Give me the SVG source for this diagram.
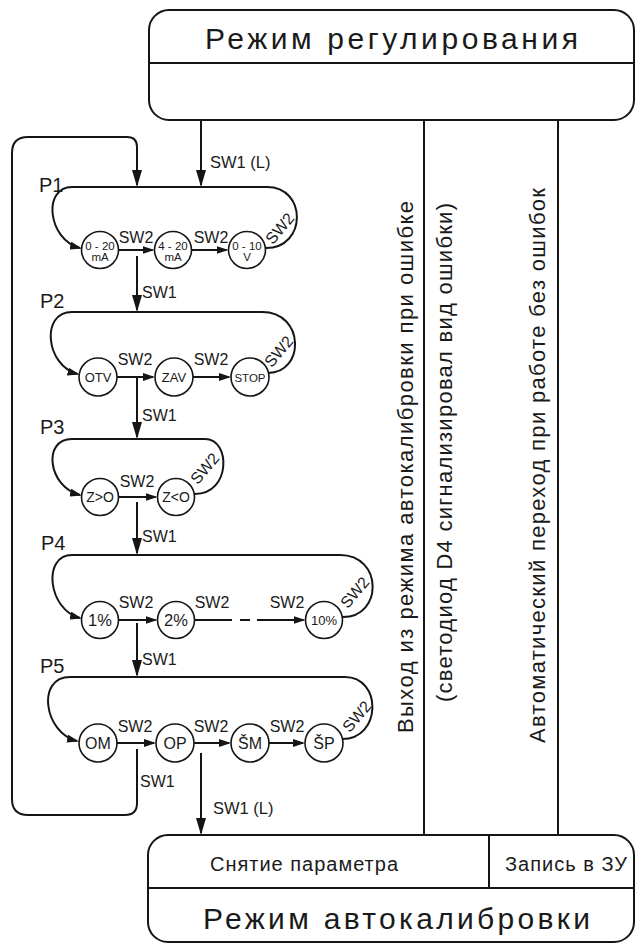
<svg xmlns="http://www.w3.org/2000/svg" width="636" height="945" viewBox="0 0 636 945">
<defs>
<style>
.ln{fill:none;stroke:#151515;stroke-width:2}
.cl{fill:#fff;stroke:#151515;stroke-width:1.6}
.t{font-family:"Liberation Sans",Arial,sans-serif;fill:#1a1a1a}
.s{font-size:16px}
.m{text-anchor:middle}
</style>
<marker id="a" viewBox="0 0 12 8" refX="10" refY="4" markerWidth="12" markerHeight="8" markerUnits="userSpaceOnUse" orient="auto"><path d="M0 0L12 4L0 8z" fill="#151515"/></marker>
<marker id="b" viewBox="0 0 17 10" refX="15" refY="5" markerWidth="17" markerHeight="10" markerUnits="userSpaceOnUse" orient="auto"><path d="M0 0L17 5L0 10z" fill="#151515"/></marker>
</defs>
<rect width="636" height="945" fill="#fff"/>

<g id="mode-regulation">
<rect class="ln" x="149" y="10" width="485" height="110" rx="20"/>
<line class="ln" x1="149" y1="63" x2="634" y2="63"/>
<text class="t" x="205" y="49" font-size="30" textLength="373" lengthAdjust="spacing">Режим регулирования</text>
</g>

<g id="mode-autocal">
<rect class="ln" x="148" y="835" width="486" height="107" rx="20"/>
<line class="ln" x1="148" y1="888" x2="634" y2="888"/>
<line class="ln" x1="489" y1="835" x2="489" y2="888"/>
<text class="t" x="210" y="871" font-size="20" textLength="188" lengthAdjust="spacing">Снятие параметра</text>
<text class="t" x="505" y="871" font-size="20" textLength="122" lengthAdjust="spacing">Запись в ЗУ</text>
<text class="t" x="203" y="929" font-size="30" textLength="387" lengthAdjust="spacing">Режим автокалибровки</text>
</g>

<g id="connectors">
<line class="ln" x1="424" y1="120" x2="424" y2="835"/>
<line class="ln" x1="558" y1="120" x2="558" y2="835"/>
<path class="ln" d="M201 120V185" marker-end="url(#b)"/>
<path class="ln" d="M137 749V803Q137 815 125 815H28Q12 815 12 799V153Q12 137 28 137H127Q137 137 137 147V185" marker-end="url(#b)"/>
<path class="ln" d="M137 256V310" marker-end="url(#b)"/>
<path class="ln" d="M137 377V437" marker-end="url(#b)"/>
<path class="ln" d="M137 502V553" marker-end="url(#b)"/>
<path class="ln" d="M137 623V675" marker-end="url(#b)"/>
<path class="ln" d="M201 753V833" marker-end="url(#b)"/>
<path class="ln" d="M266 248C307 248 307 187 267 187H72C42 187 48 240 80 248" marker-end="url(#a)"/>
<path class="ln" d="M268 373C305 373 305 312 262 312H72C40 312 46 366 77.5 374" marker-end="url(#a)"/>
<path class="ln" d="M195 494C231 494 231 439 205 439H72C42 439 48 487 80 495" marker-end="url(#a)"/>
<path class="ln" d="M343 617C383 617 383 555 340 555H72C42 555 48 610 80 618" marker-end="url(#a)"/>
<path class="ln" d="M342 739C382 739 382 677 345 677H70C36 677 44 733 77 741" marker-end="url(#a)"/>
<path class="ln" d="M118.5 250H152.5" marker-end="url(#a)"/>
<path class="ln" d="M191.5 250H226.5" marker-end="url(#a)"/>
<path class="ln" d="M117 377H153" marker-end="url(#a)"/>
<path class="ln" d="M193 377H229" marker-end="url(#a)"/>
<path class="ln" d="M118.5 497H155.5" marker-end="url(#a)"/>
<path class="ln" d="M118.5 620H155.5" marker-end="url(#a)"/>
<path class="ln" d="M194.5 620H232M240 620H250"/>
<path class="ln" d="M257 620H303.5" marker-end="url(#a)"/>
<path class="ln" d="M117 743H154" marker-end="url(#a)"/>
<path class="ln" d="M194 743H229" marker-end="url(#a)"/>
<path class="ln" d="M269 743H303" marker-end="url(#a)"/>
<text class="t" x="210" y="168" font-size="16.5">SW1 (L)</text>
<text class="t" x="213" y="814" font-size="16.5">SW1 (L)</text>
<text class="t s" x="142" y="298">SW1</text>
<text class="t s" x="142" y="421">SW1</text>
<text class="t s" x="142" y="542">SW1</text>
<text class="t s" x="142" y="665">SW1</text>
<text class="t s" x="140" y="787">SW1</text>
<text class="t s m" x="136" y="243">SW2</text>
<text class="t s m" x="211" y="243">SW2</text>
<text class="t s m" x="135" y="365">SW2</text>
<text class="t s m" x="211" y="365">SW2</text>
<text class="t s m" x="137" y="487">SW2</text>
<text class="t s m" x="136" y="608">SW2</text>
<text class="t s m" x="212" y="608">SW2</text>
<text class="t s m" x="287" y="608">SW2</text>
<text class="t s m" x="135" y="732">SW2</text>
<text class="t s m" x="211" y="732">SW2</text>
<text class="t s m" x="287" y="732">SW2</text>
<text class="t s m" transform="translate(284 232) rotate(-50)">SW2</text>
<text class="t s m" transform="translate(283 355) rotate(-50)">SW2</text>
<text class="t s m" transform="translate(209 472) rotate(-50)">SW2</text>
<text class="t s m" transform="translate(359 596) rotate(-50)">SW2</text>
<text class="t s m" transform="translate(361 720) rotate(-50)">SW2</text>
</g>

<g id="side-labels">
<text class="t" font-size="22" transform="translate(413 733) rotate(-90)" textLength="532" lengthAdjust="spacing">Выход из режима автокалибровки при ошибке</text>
<text class="t" font-size="22" transform="translate(452 702) rotate(-90)" textLength="499" lengthAdjust="spacing">(светодиод D4 сигнализировал вид ошибки)</text>
<text class="t" font-size="22" transform="translate(545 743) rotate(-90)" textLength="555" lengthAdjust="spacing">Автоматический переход при работе без ошибок</text>
</g>

<g id="p-labels">
<text class="t" x="39" y="192" font-size="20">P1</text>
<text class="t" x="40" y="308" font-size="20">P2</text>
<text class="t" x="40" y="434" font-size="20">P3</text>
<text class="t" x="41" y="550" font-size="20">P4</text>
<text class="t" x="40" y="673" font-size="20">P5</text>
</g>

<g id="p1-0-20"><circle class="cl" cx="100" cy="250" r="18.5"/><text class="t m" x="100" y="250" font-size="11.5">0 - 20</text><text class="t m" x="100" y="261" font-size="11.5">mA</text></g>
<g id="p1-4-20"><circle class="cl" cx="173" cy="250" r="18.5"/><text class="t m" x="173" y="250" font-size="11.5">4 - 20</text><text class="t m" x="173" y="261" font-size="11.5">mA</text></g>
<g id="p1-0-10"><circle class="cl" cx="247" cy="250" r="18.5"/><text class="t m" x="247" y="250" font-size="11.5">0 - 10</text><text class="t m" x="247" y="261" font-size="11.5">V</text></g>

<g id="p2-otv"><circle class="cl" cx="98" cy="377" r="19"/><text class="t m" x="98" y="382" font-size="13">OTV</text></g>
<g id="p2-zav"><circle class="cl" cx="174" cy="377" r="19"/><text class="t m" x="174" y="382" font-size="13">ZAV</text></g>
<g id="p2-stop"><circle class="cl" cx="250" cy="377" r="19"/><text class="t m" x="250" y="381.5" font-size="11.5">STOP</text></g>

<g id="p3-zgo"><circle class="cl" cx="100" cy="497" r="18.5"/><text class="t m" x="100" y="502" font-size="14">Z&gt;O</text></g>
<g id="p3-zlo"><circle class="cl" cx="176" cy="497" r="18.5"/><text class="t m" x="176" y="502" font-size="14">Z&lt;O</text></g>

<g id="p4-1"><circle class="cl" cx="100" cy="620" r="18.5"/><text class="t m" x="100" y="626" font-size="16.5">1%</text></g>
<g id="p4-2"><circle class="cl" cx="176" cy="620" r="18.5"/><text class="t m" x="176" y="626" font-size="16.5">2%</text></g>
<g id="p4-10"><circle class="cl" cx="324" cy="620" r="18.5"/><text class="t m" x="324" y="625" font-size="13">10%</text></g>

<g id="p5-om"><circle class="cl" cx="98" cy="743" r="19"/><text class="t m" x="98" y="749" font-size="16">OM</text></g>
<g id="p5-op"><circle class="cl" cx="175" cy="743" r="19"/><text class="t m" x="175" y="749" font-size="16">OP</text></g>
<g id="p5-sm"><circle class="cl" cx="250" cy="743" r="19"/><text class="t m" x="250" y="749" font-size="16">ŠM</text></g>
<g id="p5-sp"><circle class="cl" cx="324" cy="743" r="19"/><text class="t m" x="324" y="749" font-size="16">ŠP</text></g>
</svg>
